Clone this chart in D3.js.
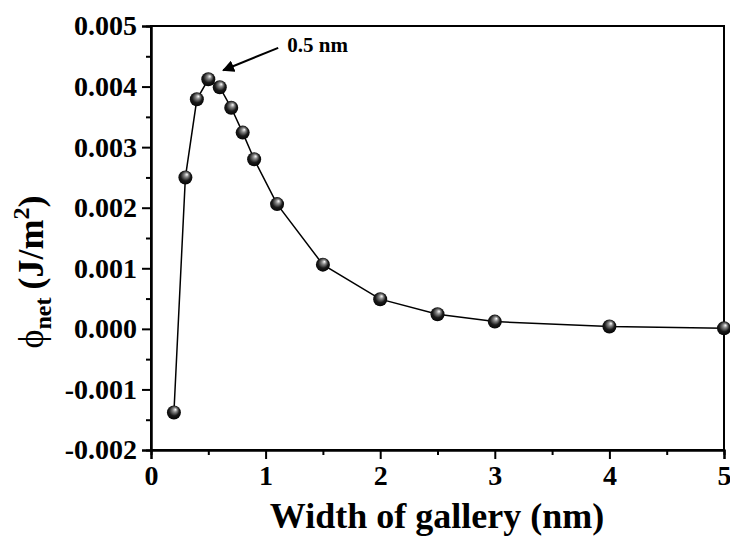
<!DOCTYPE html>
<html>
<head>
<meta charset="utf-8">
<script src="https://cdn.jsdelivr.net/npm/d3@7"></script>
<style>
  body { margin: 0; background: #fff; }
  text { font-family: "Liberation Serif", "Times New Roman", serif; }
</style>
</head>
<body>
<div id="chart"></div>
<script>
// gallery width (nm) and net interaction energy (J/m^2)
const widths = [0.2, 0.3, 0.4, 0.5, 0.6, 0.7, 0.8, 0.9, 1.1, 1.5, 2, 2.5, 3, 4, 5];
const phiNet = [-0.00138, 0.0025, 0.00379, 0.00412, 0.00399, 0.00365, 0.00324, 0.0028,
                0.00206, 0.00106, 0.00049, 0.00024, 0.00012, 0.00004, 0.00001];
const xTicks = [0, 1, 2, 3, 4, 5];
const xMinor = [0.5, 1.5, 2.5, 3.5, 4.5];
const yTicks = [-0.002, -0.001, 0, 0.001, 0.002, 0.003, 0.004, 0.005];
const yMinor = [-0.0015, -0.0005, 0.0005, 0.0015, 0.0025, 0.0035, 0.0045];

const width = 730, height = 538;
const svg = d3.select("#chart").append("svg")
    .attr("width", width)
    .attr("height", height);

const x = d3.scaleLinear().domain([0, 5]).range([151, 724]);
const y = d3.scaleLinear().domain([-0.002, 0.005]).range([450, 26]);

// marker shading
const defs = svg.append("defs");
const grad = defs.append("radialGradient")
    .attr("id", "ball")
    .attr("cx", "45%").attr("cy", "45%").attr("r", "60%")
    .attr("fx", "62%").attr("fy", "28%");
grad.append("stop").attr("offset", "0%").attr("stop-color", "#ffffff");
grad.append("stop").attr("offset", "25%").attr("stop-color", "#8a8a8a");
grad.append("stop").attr("offset", "60%").attr("stop-color", "#1a1a1a");
grad.append("stop").attr("offset", "100%").attr("stop-color", "#000000");

// frame
svg.append("rect")
    .attr("x", x(0)).attr("y", y(0.005))
    .attr("width", x(5) - x(0)).attr("height", y(-0.002) - y(0.005))
    .attr("fill", "none").attr("stroke", "#000").attr("stroke-width", 2);

const fmtY = d => d3.format(".3f")(d).replace("−", "-");

svg.append("g")
    .attr("transform", `translate(${x(0)},0)`)
    .call(d3.axisLeft(y).tickValues(yTicks).tickSize(9).tickPadding(5).tickFormat(fmtY));
svg.append("g")
    .attr("transform", `translate(${x(0)},0)`)
    .call(d3.axisLeft(y).tickValues(yMinor).tickSize(5).tickFormat(""));

svg.append("g")
    .attr("transform", `translate(0,${y(-0.002)})`)
    .call(d3.axisBottom(x).tickValues(xTicks).tickSize(9).tickPadding(6).tickFormat(d3.format("d")));
svg.append("g")
    .attr("transform", `translate(0,${y(-0.002)})`)
    .call(d3.axisBottom(x).tickValues(xMinor).tickSize(5).tickFormat(""));

svg.selectAll(".domain").attr("stroke-width", 2);
svg.selectAll(".tick line").attr("stroke-width", 2);
svg.selectAll(".tick text")
    .style("font-family", "'Liberation Serif', serif")
    .style("font-weight", "bold")
    .style("font-size", "28px")
    .attr("fill", "#000");

// data line and markers
const pts = widths.map((w, i) => [w, phiNet[i]]);
svg.append("path")
    .datum(pts)
    .attr("fill", "none")
    .attr("stroke", "#000")
    .attr("stroke-width", 1.5)
    .attr("d", d3.line().x(d => x(d[0])).y(d => y(d[1])));

svg.selectAll("circle.pt")
    .data(pts)
    .enter().append("circle")
    .attr("class", "pt")
    .attr("cx", d => x(d[0]))
    .attr("cy", d => y(d[1]))
    .attr("r", 7)
    .attr("fill", "url(#ball)");

// annotation
defs.append("marker")
    .attr("id", "arrow")
    .attr("viewBox", "0 0 10 10")
    .attr("refX", 9).attr("refY", 5)
    .attr("markerWidth", 6).attr("markerHeight", 6)
    .attr("orient", "auto")
  .append("path")
    .attr("d", "M0,0 L10,5 L0,10 z")
    .attr("fill", "#000");

svg.append("line")
    .attr("x1", x(1.11)).attr("y1", y(0.00464))
    .attr("x2", x(0.63)).attr("y2", y(0.00427))
    .attr("stroke", "#000").attr("stroke-width", 2)
    .attr("marker-end", "url(#arrow)");

svg.append("text")
    .attr("x", x(1.19)).attr("y", y(0.00457))
    .style("font-weight", "bold")
    .style("font-size", "21px")
    .text("0.5 nm");

// axis titles
svg.append("text")
    .attr("x", 437).attr("y", 528)
    .attr("text-anchor", "middle")
    .style("font-weight", "bold")
    .style("font-size", "36px")
    .text("Width of gallery (nm)");

const yl = svg.append("text")
    .attr("transform", "translate(43,272) rotate(-90)")
    .attr("text-anchor", "middle")
    .style("font-size", "36px");
yl.append("tspan").text("ϕ");
yl.append("tspan").attr("dy", 8).style("font-size", "24px").style("font-weight", "bold").text("net");
yl.append("tspan").attr("dy", -8).attr("dx", 8).style("font-weight", "bold").text("(J/m");
yl.append("tspan").attr("dy", -14).style("font-size", "24px").style("font-weight", "bold").text("2");
yl.append("tspan").attr("dy", 14).style("font-weight", "bold").text(")");
</script>
</body>
</html>
